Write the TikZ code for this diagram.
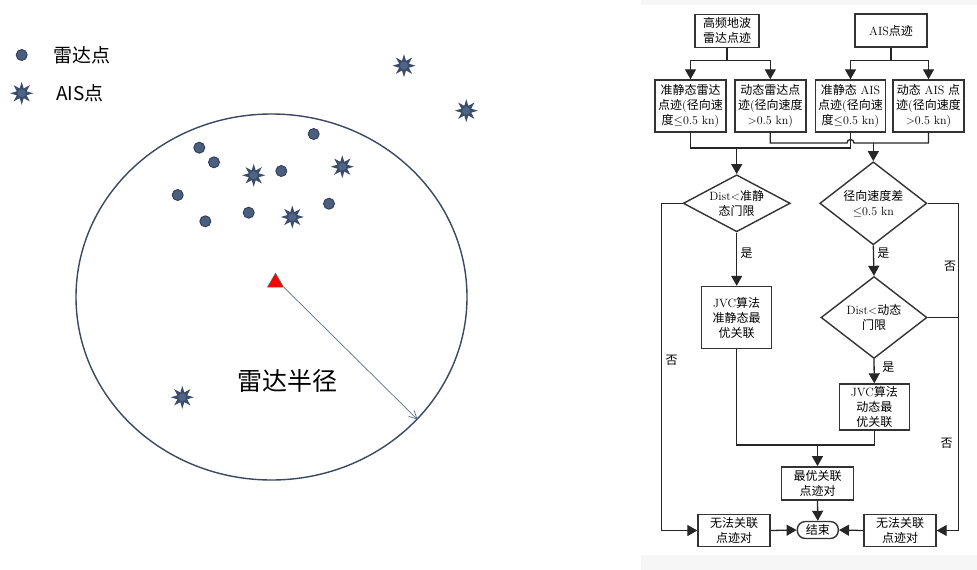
\documentclass[tikz,border=0pt]{standalone}
\usepackage{fontspec}
\newfontfamily\cjk{Noto Sans CJK SC}
\usetikzlibrary{arrows.meta,shapes.geometric}
\newcommand{\zh}[1]{{\cjk #1}}
\definecolor{dotblue}{HTML}{4A5E7E}
\definecolor{dotedge}{HTML}{2F3E57}
\definecolor{staredge}{HTML}{3B4C6A}
\definecolor{starcore}{HTML}{4E6587}
\definecolor{ringcol}{HTML}{3A4860}
\definecolor{arrowcol}{HTML}{5F6F87}
\begin{document}
\begin{tikzpicture}[x=1pt,y=-1pt,
	flowline/.style={line width=1.3pt,draw=black!85},
	flowarr/.style={flowline,-{Triangle[length=10pt,width=11pt]}},
	flowbox/.style={draw=black!80,line width=1.4pt,fill=white,inner sep=0pt,align=center,font=\fontsize{12}{15}\selectfont},
	flowdia/.style={draw=black!80,line width=1.4pt,fill=white,diamond,inner sep=0pt},
	flowtext/.style={align=center,inner sep=0pt,font=\fontsize{12}{15}\selectfont},
	radardot/.style={circle,fill=dotblue,draw=dotedge,line width=0.9pt,minimum size=11pt,inner sep=0pt},
	aisstar/.style={star,star points=8,star point ratio=2.2,fill=staredge,minimum size=23pt,inner sep=0pt},
	aiscore/.style={circle,fill=starcore,minimum size=8pt,inner sep=0pt}]
	\useasboundingbox (0,0) rectangle (977,570);
	\fill[white] (0,0) rectangle (977,570);
	\fill[gray!7] (641,0) rectangle (977,570);
	\fill[white] (641,5) rectangle (977,555);
	%Vung radar
	\node[ellipse,draw=ringcol,line width=1.4pt,minimum width=391pt,minimum height=366pt,inner sep=0pt] (range) at (271.5,297) {};
	\foreach \x/\y [count=\i] in {199.3/147.7,214/162.3,177.7/195,205.3/221.3,248.7/212.7,281.3/171,313.7/134,329/203.7}
	\node[radardot] (dot\i) at (\x,\y) {};
	\foreach \x/\y [count=\i] in {253.7/175.3,292.3/217,342.3/166.7,404/65.7,466.3/110.7,182.3/397.3}{
		\node[aisstar] (ais\i) at (\x,\y) {};
		\node[aiscore] (core\i) at (ais\i) {};}
	\node[regular polygon,regular polygon sides=3,fill=red,draw=black!60,line width=0.6pt,minimum size=18.5pt,inner sep=0pt] (radar) at (275.5,282.5) {};
	\draw[draw=arrowcol,line width=0.7pt,-{Straight Barb[length=8pt,width=8pt]}] (radar.corner 3) -- (range.-40);
	\node[font=\cjk\fontsize{25}{30}\selectfont] (rlabel) at (287,381) {雷达半径};
	%Chu thich
	\node[radardot] (legdot) at (21.7,55) {};
	\node[font=\cjk\fontsize{19}{22}\selectfont] (legdottext) at (82,55) {雷达点};
	\node[aisstar] (legstar) at (21.7,93.3) {};
	\node[aiscore] (legcore) at (legstar) {};
	\node[font=\cjk\fontsize{19}{22}\selectfont] (legstartext) at (80,93.3) {AIS点};
	%So do khoi
	\node[flowbox,minimum width=64pt,minimum height=33pt] (top1) at (727,30.7) {\zh{高频地波}\\\zh{雷达点迹}};
	\node[flowbox,minimum width=72pt,minimum height=33pt] (top2) at (891,30.5) {AIS\zh{点迹}};
	\node[flowbox,minimum width=71pt,minimum height=52pt] (A) at (690.5,106) {\zh{准静态雷达}\\\zh{点迹}(\zh{径向速}\\\zh{度}$\le$0.5 kn)};
	\node[flowbox,minimum width=71pt,minimum height=52pt] (B) at (770.3,106) {\zh{动态雷达点}\\\zh{迹}(\zh{径向速度}\\$>$0.5 kn)};
	\node[flowbox,minimum width=70pt,minimum height=52pt] (C) at (850.5,106) {\zh{准静态} AIS\\\zh{点迹}(\zh{径向速}\\\zh{度}$\le$0.5 kn)};
	\node[flowbox,minimum width=71pt,minimum height=52pt] (D) at (928.5,106) {\zh{动态} AIS \zh{点}\\\zh{迹}(\zh{径向速度}\\$>$0.5 kn)};
	\node[flowdia,minimum width=107pt,minimum height=57pt,label={[flowtext]center:{Dist$<$\zh{准静}\\\zh{态门限}}}] (d1) at (736.7,203.3) {};
	\node[flowdia,minimum width=107pt,minimum height=83pt,label={[flowtext]center:{\zh{径向速度差}\\$\le$0.5 kn}}] (d2) at (873.3,203.3) {};
	\node[flowdia,minimum width=106pt,minimum height=82pt,label={[flowtext]center:{Dist$<$\zh{动态}\\\zh{门限}}}] (d3) at (874,317.5) {};
	\node[flowbox,minimum width=70pt,minimum height=62pt] (jvc1) at (736.7,317.5) {JVC\zh{算法}\\\zh{准静态最}\\\zh{优关联}};
	\node[flowbox,minimum width=70pt,minimum height=46pt] (jvc2) at (874.3,407) {JVC\zh{算法}\\\zh{动态最}\\\zh{优关联}};
	\node[flowbox,minimum width=72pt,minimum height=33pt] (best) at (817.5,483.3) {\zh{最优关联}\\\zh{点迹对}};
	\node[flowbox,minimum width=72pt,minimum height=32pt] (fail1) at (734,530.5) {\zh{无法关联}\\\zh{点迹对}};
	\node[flowbox,minimum width=72pt,minimum height=32pt] (fail2) at (900,530.5) {\zh{无法关联}\\\zh{点迹对}};
	\node[flowbox,rounded corners=8pt,minimum width=41pt,minimum height=17pt] (stop) at (817.8,530) {\zh{结束}};
	%Duong noi
	\draw[flowarr] (top1.south) |- (A.north |- 0,60.7) -- (A.north);
	\draw[flowarr] (top1.south) |- (B.north |- 0,60.7) -- (B.north);
	\draw[flowarr] (top2.south) |- (C.north |- 0,60.7) -- (C.north);
	\draw[flowarr] (top2.south) |- (D.north |- 0,60.7) -- (D.north);
	\draw[flowline] (A.south) |- (C.south |- 0,148) -- (C.south);
	\draw[flowline] (B.south) |- (847,143) arc[start angle=180,end angle=0,radius=3.5pt] -- (D.south |- 0,143) -- (D.south);
	\draw[flowarr] (d1.north |- 0,148) -- (d1.north);
	\draw[flowarr] (d2.north |- 0,143) -- (d2.north);
	\draw[flowarr] (d1.south) -- (jvc1.north);
	\draw[flowarr] (d1.west) -- (661.7,203.3) |- (fail1.west);
	\draw[flowarr] (d2.south) -- (d3.north);
	\draw[flowarr] (d3.south) -- (jvc2.north);
	\draw[flowarr] (d2.east) -- (958.3,203.3) |- (fail2.east);
	\draw[flowline] (d3.east) -- (958.3,317.5);
	\draw[flowline] (jvc1.south) |- (jvc2.south |- 0,445) -- (jvc2.south);
	\draw[flowarr] (best.north |- 0,445) -- (best.north);
	\draw[flowarr] (best.south) -- (stop.north);
	\draw[flowarr] (fail1.east) -- (stop.west);
	\draw[flowarr] (fail2.west) -- (stop.east);
	\foreach \x/\y/\t [count=\i] in {746.7/253.3/是,883.3/253.3/是,888.3/366.7/是,671.7/360/否,950/266.7/否,946.7/443.3/否}
	\node[flowtext,font=\cjk\fontsize{12}{15}\selectfont] (yn\i) at (\x,\y) {\t};
\end{tikzpicture}
\end{document}
